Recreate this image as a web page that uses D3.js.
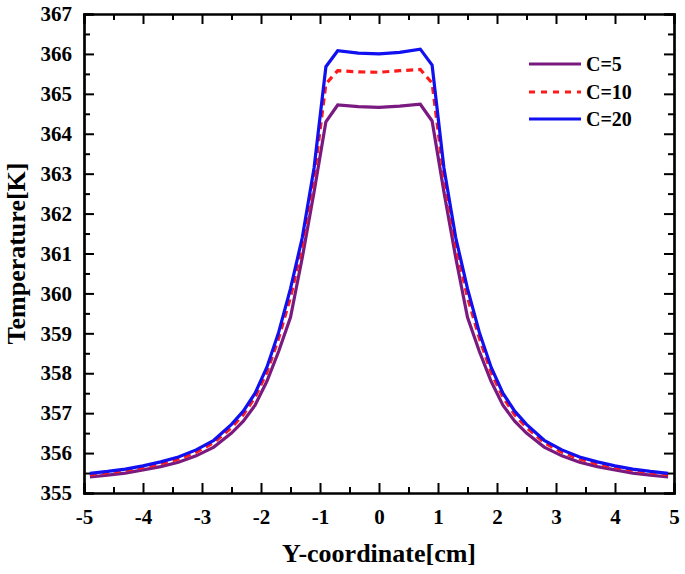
<!DOCTYPE html>
<html><head><meta charset="utf-8">
<script src="https://cdn.jsdelivr.net/npm/d3@7"></script>
<style>
html,body{margin:0;padding:0;background:#fff;}
</style></head>
<body><svg id="chart" width="685" height="574"></svg>
<script>
const xs = [-4.9,-4.6,-4.3,-4.0,-3.7,-3.4,-3.1,-2.8,-2.5,-2.3,-2.1,-1.9,-1.7,-1.5,-1.3,-1.1,-0.9,-0.7,-0.35,0,0.35,0.7,0.9,1.1,1.3,1.5,1.7,1.9,2.1,2.3,2.5,2.8,3.1,3.4,3.7,4.0,4.3,4.6,4.9];
const c5  = [355.40,355.45,355.50,355.58,355.66,355.77,355.93,356.15,356.50,356.80,357.20,357.80,358.55,359.40,360.90,362.55,364.30,364.72,364.68,364.66,364.69,364.74,364.32,362.55,360.90,359.40,358.55,357.80,357.20,356.80,356.50,356.15,355.93,355.77,355.66,355.58,355.50,355.45,355.40];
const c10 = [355.46,355.51,355.57,355.64,355.73,355.85,356.02,356.26,356.64,356.96,357.40,358.02,358.88,359.90,361.20,362.90,365.25,365.58,365.55,365.54,365.58,365.61,365.27,362.90,361.20,359.90,358.88,358.02,357.40,356.96,356.64,356.26,356.02,355.85,355.73,355.64,355.57,355.51,355.46];
const c20 = [355.49,355.54,355.60,355.68,355.78,355.90,356.08,356.32,356.72,357.05,357.50,358.15,359.03,360.12,361.40,363.15,365.68,366.08,366.02,366.00,366.04,366.12,365.72,363.15,361.40,360.12,359.03,358.15,357.50,357.05,356.72,356.32,356.08,355.90,355.78,355.68,355.60,355.54,355.49];
const seriesNames = ["C=5","C=10","C=20"];
const seriesColors = ["#7a1a80","#ff1a1a","#1010f0"];
const seriesDash = [null,"7,5",null];
const xTicks = [-5,-4,-3,-2,-1,0,1,2,3,4,5];
const yTicks = [355,356,357,358,359,360,361,362,363,364,365,366,367];

const FONT = '"Liberation Serif", "Times New Roman", serif';
const svg = d3.select("#chart");
const L=84, R=674, T=14, B=493;
const x = d3.scaleLinear().domain([-5,5]).range([L,R]);
const y = d3.scaleLinear().domain([355,367]).range([B,T]);

const series = [c5,c10,c20];
const line = d3.line().x((d,i)=>x(xs[i])).y(d=>y(d));
series.forEach((s,k)=>{
  svg.append("path").datum(s).attr("d",line)
    .attr("fill","none").attr("stroke",seriesColors[k])
    .attr("stroke-width",3.2).attr("stroke-linejoin","miter")
    .attr("stroke-dasharray",seriesDash[k]);
});

const xMinor = d3.range(-4.5,5,1);
const yMinor = d3.range(355.5,367,1);
function axis(gen, ticks, minor, transform, pad){
  const g = svg.append("g").attr("transform",transform);
  g.call(gen.tickValues(ticks).tickSize(-10).tickPadding(pad||0).tickFormat(pad?(d=>String(d)):""));
  const g2 = svg.append("g").attr("transform",transform);
  g2.call(gen.tickValues(minor).tickSize(-6).tickFormat(""));
  [g,g2].forEach(gg=>{
    gg.attr("font-family",null).attr("font-size",null);
    gg.selectAll("path.domain").attr("stroke","#000").attr("stroke-width",2.2);
    gg.selectAll(".tick line").attr("stroke","#000").attr("stroke-width",2);
    gg.selectAll("text").style("font-size","21px").style("font-family",FONT).style("font-weight","bold").attr("fill","#000");
  });
  return g;
}
axis(d3.axisBottom(x), xTicks, xMinor, `translate(0,${B})`, 16);
axis(d3.axisTop(x), xTicks, xMinor, `translate(0,${T})`, 0);
axis(d3.axisLeft(y), yTicks, yMinor, `translate(${L},0)`, 12);
axis(d3.axisRight(y), yTicks, yMinor, `translate(${R},0)`, 0);

svg.append("text").attr("x",(L+R)/2).attr("y",562).attr("text-anchor","middle")
  .style("font-family",FONT).style("font-weight","bold").style("font-size","26px").text("Y-coordinate[cm]");
svg.append("text").attr("transform",`translate(25,${(T+B)/2}) rotate(-90)`)
  .attr("text-anchor","middle").style("font-family",FONT).style("font-weight","bold").style("font-size","26px").text("Temperature[K]");

const leg = [64,92,119];
seriesNames.forEach((n,k)=>{
  svg.append("line").attr("x1",529).attr("x2",581).attr("y1",leg[k]).attr("y2",leg[k])
    .attr("stroke",seriesColors[k]).attr("stroke-width",3.2).attr("stroke-dasharray",seriesDash[k]?"6,6":null);
  svg.append("text").attr("x",586).attr("y",leg[k]+7).style("font-family",FONT).style("font-weight","bold").style("font-size","20px").text(n);
});
</script></body></html>
